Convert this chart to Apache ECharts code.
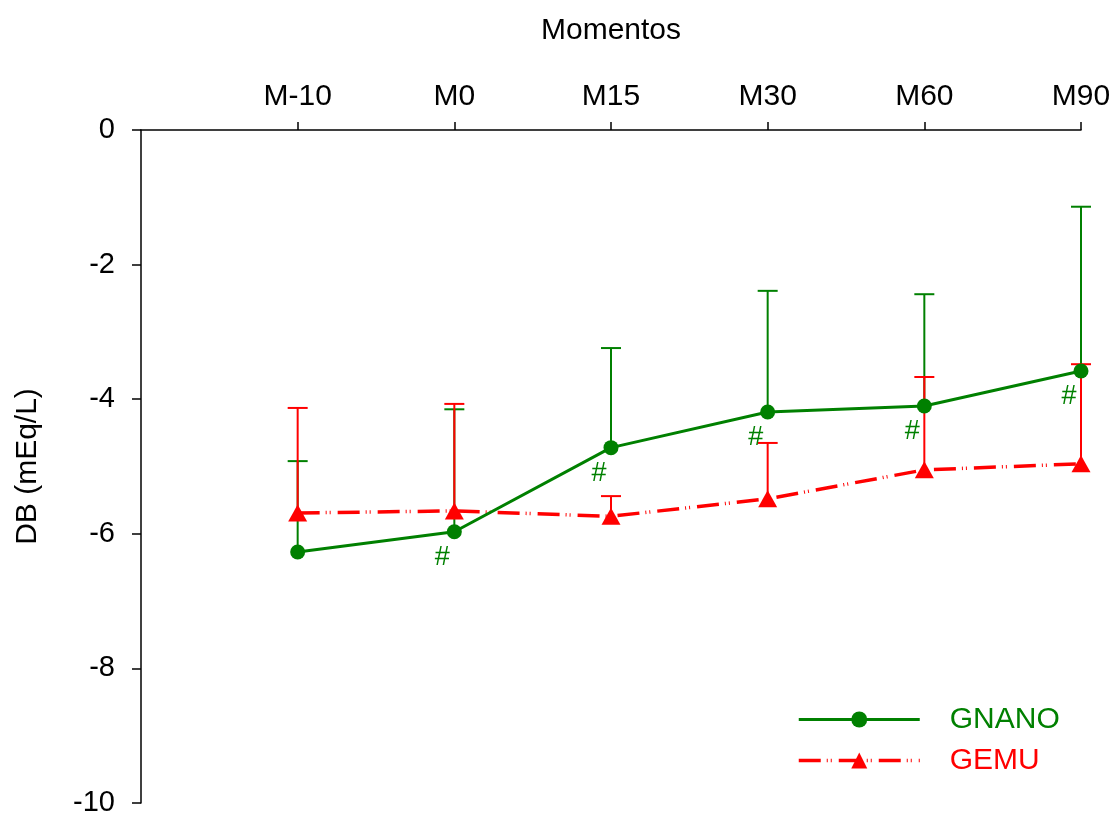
<!DOCTYPE html>
<html>
<head>
<meta charset="utf-8">
<script src="https://cdn.jsdelivr.net/npm/echarts@6/dist/echarts.min.js"></script>
<style>html,body{margin:0;padding:0;background:#fff}#c{width:1115px;height:817px}</style>
</head>
<body>
<div id="c"></div>
<script>
var categories = ['M-10', 'M0', 'M15', 'M30', 'M60', 'M90'];
var gnanoMean = [-6.27, -5.97, -4.72, -4.19, -4.10, -3.58];
var gnanoUpper = [-4.92, -4.15, -3.24, -2.39, -2.44, -1.14];
var gemuMean = [-5.69, -5.66, -5.74, -5.48, -5.05, -4.96];
var gemuUpper = [-4.13, -4.07, -5.44, -4.65, -3.67, -3.48];
var gnanoSig = ['', '#', '#', '#', '#', '#'];
var yTicks = [0, -2, -4, -6, -8, -10];

var GREEN = '#008000', RED = '#ff0000';
var FONT = 'Liberation Sans, Arial, sans-serif';
var DASH = [22, 6, 1, 3, 1, 7];
var axisCats = [''].concat(categories);

function pts(arr) { return arr.map(function (v, i) { return [i + 1, v]; }); }
function errData(mean, up) { return mean.map(function (v, i) { return [i + 1, v, up[i]]; }); }
function errSeries(mean, up, color) {
  return {
    type: 'custom', silent: true, z: 1,
    data: errData(mean, up),
    renderItem: function (params, api) {
      var p0 = api.coord([api.value(0), api.value(1)]);
      var p1 = api.coord([api.value(0), api.value(2)]);
      var w = 10;
      return {
        type: 'group', children: [
          { type: 'line', shape: { x1: p0[0], y1: p0[1], x2: p1[0], y2: p1[1] }, style: { stroke: color, lineWidth: 2 } },
          { type: 'line', shape: { x1: p1[0] - w, y1: p1[1], x2: p1[0] + w, y2: p1[1] }, style: { stroke: color, lineWidth: 2 } }
        ]
      };
    }
  };
}

var chart = echarts.init(document.getElementById('c'));
chart.setOption({
  animation: false,
  grid: { left: 141, right: 34, top: 130, bottom: 14, containLabel: false, outerBoundsMode: 'none' },
  xAxis: {
    type: 'category', position: 'top', boundaryGap: false, data: axisCats,
    name: 'Momentos', nameLocation: 'middle', nameGap: 84, nameMoveOverlap: false,
    nameTextStyle: { fontFamily: FONT, fontSize: 30, color: '#000' },
    axisLine: { lineStyle: { color: '#000', width: 1.5 } },
    axisTick: { length: 8, lineStyle: { color: '#000', width: 1.5 }, interval: function (i) { return i > 0; } },
    axisLabel: { fontFamily: FONT, fontSize: 30, color: '#000', margin: 18, interval: 0 },
    splitLine: { show: false }
  },
  yAxis: {
    type: 'value', min: -10, max: 0, interval: 2,
    name: 'DB (mEq/L)', nameLocation: 'middle', nameGap: 98, nameRotate: 90, nameMoveOverlap: false,
    nameTextStyle: { fontFamily: FONT, fontSize: 30, color: '#000' },
    axisLine: { show: true, lineStyle: { color: '#000', width: 1.5 } },
    axisTick: { show: true, length: 9, lineStyle: { color: '#000', width: 1.5 } },
    axisLabel: { fontFamily: FONT, fontSize: 29, color: '#000', margin: 26,
      formatter: function (v) { return yTicks.indexOf(v) >= 0 ? String(v) : ''; } },
    splitLine: { show: false }
  },
  legend: {
    orient: 'vertical', left: 797, top: 703, padding: 0, itemWidth: 121, itemHeight: 20, itemGap: 8,
    textStyle: { fontFamily: FONT, fontSize: 30, lineHeight: 33, padding: [0, 0, 0, 25] },
    data: [
      { name: 'GNANO', textStyle: { color: GREEN }, lineStyle: { width: 3, color: GREEN } },
      { name: 'GEMU', textStyle: { color: RED }, lineStyle: { width: 3.5, color: RED, type: DASH } }
    ]
  },
  series: [
    errSeries(gnanoMean, gnanoUpper, GREEN),
    errSeries(gemuMean, gemuUpper, RED),
    {
      name: 'GNANO', type: 'line', z: 3, data: pts(gnanoMean),
      symbol: 'circle', symbolSize: 15, color: GREEN,
      lineStyle: { color: GREEN, width: 3 },
      itemStyle: { color: GREEN },
      label: { show: true, position: 'bottom', distance: 5, offset: [-12, 0], color: GREEN,
        fontFamily: FONT, fontSize: 27, formatter: function (p) { return gnanoSig[p.dataIndex]; } }
    },
    {
      name: 'GEMU', type: 'line', z: 2, data: pts(gemuMean),
      symbol: 'triangle', symbolSize: [19, 17], color: RED,
      lineStyle: { color: RED, width: 3.5, type: DASH },
      itemStyle: { color: RED }
    }
  ]
});
</script>
</body>
</html>
